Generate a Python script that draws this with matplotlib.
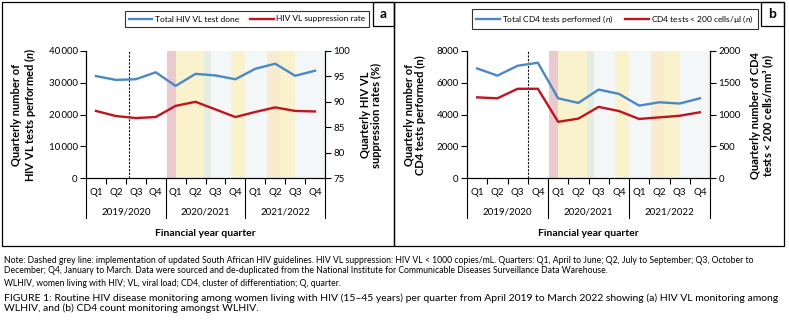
import matplotlib
matplotlib.use('Agg')
import matplotlib.pyplot as plt
import matplotlib.transforms as mtransforms
from matplotlib.patches import Rectangle
from matplotlib.lines import Line2D
from matplotlib.ticker import FuncFormatter

plt.rcParams['font.family'] = ['Lato', 'DejaVu Sans']
plt.rcParams['mathtext.fontset'] = 'custom'
plt.rcParams['mathtext.rm'] = 'Lato'
plt.rcParams['mathtext.it'] = 'Lato:italic'
plt.rcParams['mathtext.bf'] = 'Lato:bold:italic'

quarters = ['Q1', 'Q2', 'Q3', 'Q4'] * 3
years = ['2019/2020', '2020/2021', '2021/2022']

vl_tests = [32100, 30900, 31100, 33300, 29000, 32800, 32300, 31100, 34400, 36000, 32200, 33800]
vl_suppression = [88.2, 87.2, 86.8, 87.0, 89.2, 90.0, 88.5, 87.0, 88.0, 88.9, 88.2, 88.1]
cd4_tests = [6900, 6450, 7070, 7260, 5020, 4730, 5570, 5300, 4560, 4770, 4690, 5020]
cd4_below_200 = [1270, 1255, 1405, 1405, 885, 935, 1120, 1055, 930, 955, 980, 1035]

# shaded periods, in quarter units (0 = 2019/2020 Q1)
bands = [(3.55, 4.0, '#eac9cf'), (4.0, 5.42, '#f9f2cc'), (5.42, 5.78, '#e5ece0'),
         (5.78, 6.8, '#f4f7f7'), (6.8, 7.48, '#f9f2cc'), (7.48, 8.6, '#f4f7f7'),
         (8.6, 9.25, '#f8ebcf'), (9.25, 10.0, '#f9f2cc'), (10.0, 11.5, '#f4f7f7')]

BLUE = '#4a88c8'
RED = '#c0141f'
W, H = 789, 325


def px(x, y):
    return x / W, 1 - y / H


def thousands(v, _):
    return f'{int(v):,}'.replace(',', '\u2009')


def draw_panel(ax, left_vals, right_vals, dash_x, left_lim, left_step, right_lim, right_step, left_fmt):
    ax2 = ax.twinx()
    for x0, x1, c in bands:
        ax.axvspan(x0, x1, color=c, lw=0, zorder=0)
    ax.axvline(dash_x, color='#111111', lw=0.8, ls=(0, (2, 1.2)), zorder=1)
    x = range(len(quarters))
    ax.plot(x, left_vals, color=BLUE, lw=1.7, zorder=3)
    ax2.plot(x, right_vals, color=RED, lw=1.7, zorder=3)

    ax.set_xlim(-0.5, 11.5)
    ax.set_ylim(*left_lim)
    ax.set_yticks(range(left_lim[0], left_lim[1] + 1, left_step))
    ax.yaxis.set_major_formatter(FuncFormatter(left_fmt))
    ax2.set_ylim(*right_lim)
    ax2.set_yticks(range(right_lim[0], right_lim[1] + 1, right_step))

    for a in (ax, ax2):
        a.spines['top'].set_visible(False)
        for s in a.spines.values():
            s.set_linewidth(0.8)
        a.tick_params(axis='y', labelsize=7, length=4, width=0.8, pad=2)

    ax.set_xticks(list(x))
    ax.set_xticklabels(quarters)
    ax.tick_params(axis='x', which='major', length=0, pad=7, labelsize=7)
    minor = [i + 0.5 for i in range(11) if (i + 1) % 4 != 0]
    ax.set_xticks(minor, minor=True)
    ax.tick_params(axis='x', which='minor', length=4, width=0.8)

    trans = mtransforms.blended_transform_factory(ax.transData, ax.transAxes)
    for gx in (-0.5, 3.5, 7.5, 11.5):
        ax.add_line(Line2D([gx, gx], [0, -0.315], transform=trans, color='black',
                           lw=0.8, clip_on=False))
    for i, yr in enumerate(years):
        ax.text(4 * i + 1.5, -0.268, yr, transform=trans, ha='center', va='center', fontsize=7)
    ax.text(5.5, -0.435, 'Financial year quarter', transform=trans, ha='center', va='center',
            fontsize=7.5, fontweight='bold')
    return ax2


fig = plt.figure(figsize=(W / 100, H / 100), dpi=100)

ax_a = fig.add_axes([86 / W, 1 - 178 / H, (325 - 86) / W, 127 / H])
ax_a2 = draw_panel(ax_a, vl_tests, vl_suppression, 1.65, (0, 40000), 10000, (75, 100), 5, thousands)

ax_b = fig.add_axes([467 / W, 1 - 178 / H, (710 - 467) / W, 127 / H])
ax_b2 = draw_panel(ax_b, cd4_tests, cd4_below_200, 2.5, (0, 8000), 2000, (0, 2000), 500,
                   lambda v, _: f'{int(v)}')

# axis titles
ylab = dict(rotation=90, ha='center', va='center', fontsize=8, fontweight='bold', linespacing=1.0)
fig.text(*px(24, 115), 'Quarterly number of\nHIV VL tests performed ($\\mathbf{n}$)', **ylab)
fig.text(*px(371, 115), 'Quarterly HIV VL\nsuppression rates (%)', **ylab)
fig.text(*px(415, 115), 'Quarterly number of\nCD4 tests performed (n)', **ylab)
fig.text(*px(763, 115), 'Quarterly number of CD4\ntests < 200 cells/mm³ ($\\mathbf{n}$)', **ylab)

# legends
leg_kw = dict(loc='center', ncol=2, fontsize=6, frameon=True, fancybox=False, edgecolor='black',
              handlelength=2.8, columnspacing=1.4, borderpad=0.5, handletextpad=0.3)
h_a = [Line2D([], [], color=BLUE, lw=1.7), Line2D([], [], color=RED, lw=1.7)]
leg = fig.legend(h_a, ['Total HIV VL test done', 'HIV VL suppression rate'],
                 bbox_to_anchor=px(247, 19), **leg_kw)
leg.get_frame().set_linewidth(0.8)
leg = fig.legend(h_a, ['Total CD4 tests performed ($\\it{n}$)', 'CD4 tests < 200 cells/µl ($\\it{n}$)'],
                 bbox_to_anchor=px(615, 19), **leg_kw)
leg.get_frame().set_linewidth(0.8)

# outer frames and panel letters
def frame(x0, y0, x1, y1):
    fig.add_artist(Rectangle(px(x0, y1), (x1 - x0) / W, (y1 - y0) / H, transform=fig.transFigure,
                             fill=False, ec='black', lw=0.9))

frame(2, 2, 394, 246)
frame(394, 2, 784, 246)
frame(373, 2, 394, 26)
frame(761, 2, 784, 26)
fig.text(*px(383.5, 14), 'a', ha='center', va='center', fontsize=10, fontweight='bold')
fig.text(*px(772.5, 14), 'b', ha='center', va='center', fontsize=10, fontweight='bold')

note = ('Note: Dashed grey line: implementation of updated South African HIV guidelines. HIV VL suppression: '
        'HIV VL < 1000 copies/mL. Quarters: Q1, April to June; Q2, July to September; Q3, October to\n'
        'December; Q4, January to March. Data were sourced and de-duplicated from the National Institute '
        'for Communicable Diseases Surveillance Data Warehouse.')
fig.text(*px(4, 265.5), note, ha='left', va='center', fontsize=6.25, linespacing=1.25)
fig.text(*px(4, 284), 'WLHIV, women living with HIV; VL, viral load; CD4, cluster of differentiation; Q, quarter.',
         ha='left', va='center', fontsize=6.25)
caption = ('FIGURE 1: Routine HIV disease monitoring among women living with HIV (15\u201345 years) per quarter '
           'from April 2019 to March 2022 showing (a) HIV VL monitoring among\n'
           'WLHIV, and (b) CD4 count monitoring amongst WLHIV.')
fig.text(*px(4, 303.5), caption, ha='left', va='center', fontsize=7.5, linespacing=1.1)

fig.savefig('out.png', dpi=100)
